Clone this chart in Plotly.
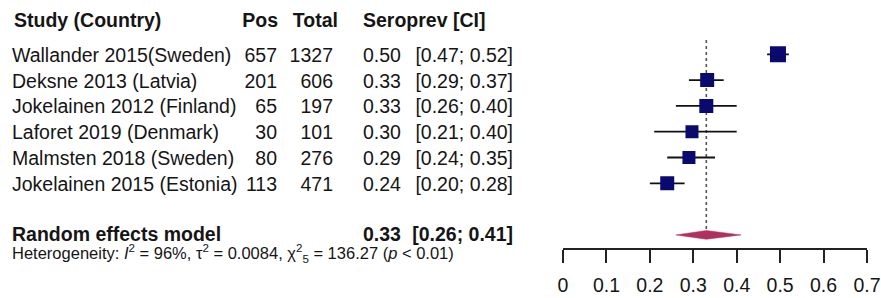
import plotly.graph_objects as go

# ---- data ----
studies = ["Wallander 2015(Sweden)", "Deksne 2013 (Latvia)", "Jokelainen 2012 (Finland)",
           "Laforet 2019 (Denmark)", "Malmsten 2018 (Sweden)", "Jokelainen 2015 (Estonia)"]
pos = [657, 201, 65, 30, 80, 113]
total = [1327, 606, 197, 101, 276, 471]
est = [0.495, 0.332, 0.330, 0.297, 0.290, 0.240]
ci_lo = [0.47, 0.29, 0.26, 0.21, 0.24, 0.20]
ci_hi = [0.52, 0.37, 0.40, 0.40, 0.35, 0.28]
sq_size = [16, 14, 14, 13, 13, 14]
re_est, re_lo, re_hi = 0.33, 0.26, 0.41
x_ticks = [0, 0.1, 0.2, 0.3, 0.4, 0.5, 0.6, 0.7]
x_tick_labels = ["0", "0.1", "0.2", "0.3", "0.4", "0.5", "0.6", "0.7"]
heterogeneity = ("Heterogeneity: <i>I</i><sup>2</sup> = 96%, τ<sup>2</sup> = 0.0084, "
                 "χ<sup>2</sup><sub>5</sub> = 136.27 (<i>p</i> &lt; 0.01)")

W, H = 881, 298
rows = list(range(1, len(studies) + 1))
re_row = 8
header_row = -0.33
het_row = 8.78
tdy = 0.1  # small vertical nudge for text baselines

FONT = "Liberation Sans, Arial, sans-serif"
TXT = "#151515"
FS = 19.5

# geometry: rows -> pixels
axis_px = 248.3
row_px0, row_sp = 54.3, 25.8
def row_at(pxv):
    return 1 + (pxv - row_px0) / row_sp

fig = go.Figure()

# reference (dotted) line at random effects estimate
fig.add_trace(go.Scatter(x=[re_est, re_est], y=[0.45, re_row], mode="lines",
                         line=dict(color="#555555", width=1.6, dash="dot"),
                         hoverinfo="skip", showlegend=False))

# CI lines
for r, lo, hi in zip(rows, ci_lo, ci_hi):
    fig.add_trace(go.Scatter(x=[lo, hi], y=[r, r], mode="lines",
                             line=dict(color="#111111", width=1.8),
                             hoverinfo="skip", showlegend=False))

# squares
fig.add_trace(go.Scatter(x=est, y=rows, mode="markers",
                         marker=dict(symbol="square", size=sq_size, color="#0a0a6e",
                                     opacity=1, line=dict(width=0)),
                         hoverinfo="skip", showlegend=False))

# diamond
dh = 0.17
fig.add_trace(go.Scatter(x=[re_lo, re_est, re_hi, re_est, re_lo],
                         y=[re_row, re_row - dh, re_row, re_row + dh, re_row],
                         mode="lines", fill="toself", fillcolor="#b03060",
                         line=dict(color="#b03060", width=0.5),
                         hoverinfo="skip", showlegend=False))

# ---- text columns (on a full-width helper axis in pixel units) ----
groups = {}
def add(text, x, y, anchor="left", bold=False, size=FS):
    if bold:
        text = "<b>" + text + "</b>"
    key = (anchor, size)
    g = groups.setdefault(key, dict(x=[], y=[], t=[]))
    g["x"].append(x); g["y"].append(y); g["t"].append(text)

add("Study (Country)", 14, header_row + tdy, bold=True)
add("Pos", 278, header_row + tdy, anchor="right", bold=True)
add("Total", 338, header_row + tdy, anchor="right", bold=True)
add("Seroprev [CI]", 363, header_row + tdy, bold=True)

for r, s, p, t, e, lo, hi in zip(rows, studies, pos, total, est, ci_lo, ci_hi):
    add(s, 12, r + tdy)
    add(str(p), 277, r + tdy, anchor="right")
    add(str(t), 333, r + tdy, anchor="right")
    add(f"{e + 1e-9:.2f}", 363, r + tdy)
    add(f"[{lo:.2f}; {hi:.2f}]", 513, r + tdy, anchor="right")

add("Random effects model", 12, re_row + tdy / 2, bold=True)
add(f"{re_est:.2f}", 363, re_row + tdy / 2, bold=True)
add(f"[{re_lo:.2f}; {re_hi:.2f}]", 513, re_row + tdy / 2, anchor="right", bold=True)
add(heterogeneity, 12, het_row, size=16.5)

for (anchor, size), g in groups.items():
    fig.add_trace(go.Scatter(
        x=g["x"], y=g["y"], text=g["t"], mode="text",
        textposition="middle right" if anchor == "left" else "middle left",
        textfont=dict(family=FONT, size=size, color=TXT),
        marker=dict(size=0),
        xaxis="x2", yaxis="y2", cliponaxis=False,
        hoverinfo="skip", showlegend=False))

fig.update_layout(
    width=W, height=H, autosize=False,
    margin=dict(l=0, r=0, t=0, b=0, pad=0, autoexpand=False),
    paper_bgcolor="white", plot_bgcolor="rgba(0,0,0,0)",
    showlegend=False,
    xaxis=dict(domain=[563 / W, 867 / W], range=[0, 0.7],
               tickmode="array", tickvals=x_ticks, ticktext=x_tick_labels,
               showgrid=False, zeroline=False, showline=True, automargin=False,
               linecolor="#222222", linewidth=1.5,
               ticks="outside", ticklen=13, tickwidth=1.5, tickcolor="#222222",
               tickfont=dict(family=FONT, size=FS, color=TXT),
               ticklabelstandoff=6, ticklabeloverflow="allow"),
    yaxis=dict(domain=[(H - axis_px) / H, 1], range=[row_at(axis_px), row_at(0)],
               visible=False, showgrid=False, zeroline=False, automargin=False),
    xaxis2=dict(domain=[0, 1], range=[0, W], visible=False, anchor="y2",
                showgrid=False, zeroline=False, automargin=False),
    yaxis2=dict(domain=[0, 1], range=[row_at(H), row_at(0)], visible=False,
                anchor="x2", showgrid=False, zeroline=False, automargin=False),
)

fig.write_html(
    "out.html",
    config={"displayModeBar": False, "responsive": False},
    post_script=("document.documentElement.style.margin='0px';"
                 "document.documentElement.style.overflow='hidden';"
                 "document.body.style.margin='0px';"
                 "document.body.style.overflow='hidden';"),
)
